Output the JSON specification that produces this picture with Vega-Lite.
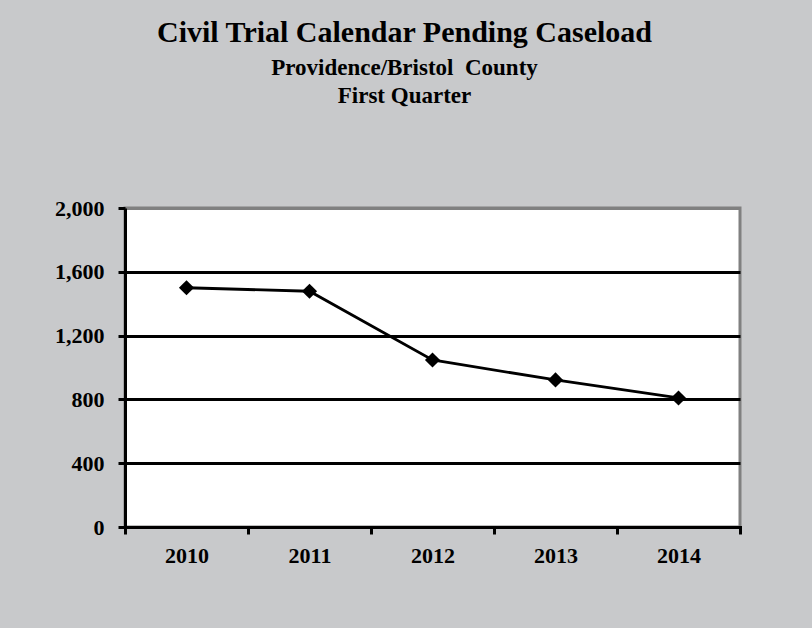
{
  "$schema": "https://vega.github.io/schema/vega-lite/v6.json",
  "width": 615,
  "height": 319,
  "autosize": "none",
  "padding": {"left": 125, "top": 208, "right": 72, "bottom": 101},
  "background": "#c8c9cb",
  "title": {
    "text": "Civil Trial Calendar Pending Caseload",
    "subtitle": ["Providence/Bristol\u00a0 County", "First Quarter"],
    "anchor": "middle",
    "dx": -28,
    "offset": 89,
    "font": "Liberation Serif",
    "fontSize": 30,
    "fontWeight": "bold",
    "color": "black",
    "subtitleFont": "Liberation Serif",
    "subtitleFontSize": 23,
    "subtitleFontWeight": "bold",
    "subtitleColor": "black",
    "subtitleLineHeight": 28,
    "subtitlePadding": 9
  },
  "config": {
    "view": {"fill": "white", "stroke": "#808080", "strokeWidth": 3},
    "axis": {
      "labelFont": "Liberation Serif",
      "labelFontSize": 22,
      "labelFontWeight": "bold",
      "labelColor": "black",
      "domainColor": "black",
      "domainWidth": 3,
      "tickColor": "black",
      "tickWidth": 3,
      "tickSize": 7
    }
  },
  "data": {
    "values": [
      {"year": "2010", "cases": 1500},
      {"year": "2011", "cases": 1478},
      {"year": "2012", "cases": 1047},
      {"year": "2013", "cases": 922},
      {"year": "2014", "cases": 809}
    ]
  },
  "encoding": {
    "x": {
      "field": "year",
      "type": "ordinal",
      "scale": {"type": "band", "paddingInner": 0, "paddingOuter": 0},
      "axis": {"title": null, "labelAngle": 0, "tickBand": "extent", "grid": false, "labelPadding": 11, "domainCap": "square"}
    },
    "y": {
      "field": "cases",
      "type": "quantitative",
      "scale": {"domain": [0, 2000], "nice": false},
      "axis": {
        "title": null,
        "values": [0, 400, 800, 1200, 1600, 2000],
        "format": ",.0f",
        "grid": true,
        "gridWidth": 3,
        "gridColor": {"condition": {"test": "datum.value === 2000", "value": "#808080"}, "value": "black"},
        "gridOpacity": 1,
        "labelPadding": 14
      }
    }
  },
  "layer": [
    {"mark": {"type": "line", "color": "black", "strokeWidth": 2.8}},
    {"mark": {"type": "point", "shape": "diamond", "filled": true, "color": "black", "opacity": 1, "size": 230}}
  ]
}
